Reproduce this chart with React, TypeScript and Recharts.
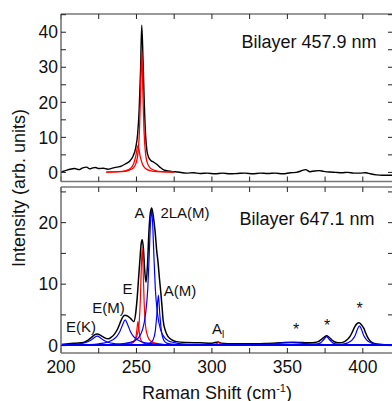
import { LineChart, Line, XAxis, YAxis } from "recharts";

type Pt = [number, number];

// shared x axis
const xDomain = [200, 420];
const xTicks = [200, 225, 250, 275, 300, 325, 350, 375, 400];
const xLabelled = [200, 250, 300, 350, 400];

// top panel (457.9 nm)
const topYDomain = [-2.6, 45.2];
const topYTicks = [0, 5, 10, 15, 20, 25, 30, 35, 40, 45];
const topYLabelled = [0, 10, 20, 30, 40];

const topBlack: Pt[] = [
  [200, 0.1], [203, 0.5], [206, 0.9], [209, 1.1], [212, 0.8], [214, 1.2], [217, 1.5], [219, 1.0],
  [221, 1.3], [223, 1.4], [225, 1.1], [228, 1.2], [231, 0.9], [234, 1.2], [237, 1.5], [240, 1.8],
  [243, 2.5], [245.5, 3.2], [247.5, 4.4], [249.5, 7], [250.8, 11], [251.8, 18], [252.7, 29],
  [253.5, 42], [254.3, 33], [255.1, 21], [256, 11], [257, 6], [258, 4.4], [259.5, 3.4],
  [261.5, 2.9], [263.4, 2.3], [265.5, 1.5], [267.7, 0.8], [270, 0.5], [273, 0.3], [277.6, 0.1],
  [283, -0.2], [288, -0.1], [292, -0.3], [297, -0.2], [302, -0.4], [307, -0.2], [312, -0.4],
  [317, -0.3], [322, -0.2], [327, -0.4], [332, -0.2], [337, -0.3], [342, -0.2], [347, -0.4],
  [352, -0.1], [356, 0.0], [359, 0.4], [362, 0.8], [365, 0.2], [368, 0.4], [371, 0.5], [374, 0.3],
  [378, 0.1], [382, 0.0], [386, -0.1], [390, 0.0], [394, -0.2], [398, -0.2], [402, -0.1],
  [405, -0.4], [409, -0.7], [413, -0.8], [417, -0.8], [420, -0.8],
];
const topRedTall: Pt[] = [
  [230, 0.1], [240, 0.2], [245, 0.6], [248, 1.3], [250, 3], [251, 5.5], [252, 12], [252.8, 24],
  [253.5, 35], [254.2, 24], [255, 12], [256, 5.5], [257, 3], [259, 1.3], [262, 0.6], [267, 0.2], [275, 0.1],
];
const topRedSmall: Pt[] = [
  [230, 0.1], [238, 0.2], [243, 0.5], [246, 1.1], [248, 2.3], [249.5, 4.5], [251, 7.6], [252.5, 4.5],
  [254, 2.3], [256, 1.1], [259, 0.5], [264, 0.2], [275, 0.1],
];

// bottom panel (647.1 nm)
const botYDomain = [-1.2, 25.8];
const botYTicks = [0, 5, 10, 15, 20, 25];
const botYLabelled = [0, 10, 20];

const botBlack: Pt[] = [
  [200, 0.2], [205, 0.3], [210, 0.4], [214.8, 0.5], [218, 0.9], [220.3, 1.35], [222.2, 1.75], [224, 1.9],
  [225.7, 1.75], [227, 1.55], [229, 1.25], [231.3, 1.1], [233.5, 1.4], [235.8, 2.0], [237.5, 2.7],
  [239, 3.6], [240.8, 4.6], [242.4, 4.95], [244.2, 4.8], [246.2, 4.4], [248.3, 3.9], [249.6, 5.5],
  [250.5, 7.8], [251.3, 10.6], [252.3, 14], [253.1, 16.5], [253.8, 17.2], [254.6, 15.8], [255.4, 12.5],
  [256.3, 10.3], [257.3, 13], [258.3, 18.7], [259.2, 21.6], [260.1, 22.4], [261.2, 21], [262.3, 18.7],
  [263.4, 15.5], [264.4, 13.3], [265.2, 11], [266, 9], [266.9, 6.5], [267.7, 4.1], [269.2, 2.4],
  [271, 1.45], [273.5, 0.95], [276.6, 0.65], [282, 0.5], [292, 0.45], [300, 0.4], [304.2, 0.6],
  [306, 0.4], [315, 0.3], [325, 0.3], [335, 0.35], [345, 0.45], [353.8, 0.55], [360, 0.5], [365, 0.45],
  [368, 0.5], [370.4, 0.65], [372.5, 1.0], [374.5, 1.4], [376, 1.6], [377.5, 1.4], [379.5, 0.9],
  [382, 0.55], [384.8, 0.45], [387.5, 0.6], [389.5, 0.95], [391.4, 1.45], [393, 2.2], [394.7, 3.1],
  [396, 3.55], [397.5, 3.7], [399, 3.4], [400.7, 2.8], [402, 2.0], [403.5, 1.2], [405.5, 0.6],
  [409, 0.25], [414, 0.15], [420, 0.1],
];
const botRedA: Pt[] = [
  [240, 0.2], [245, 0.4], [248, 0.7], [250, 1.4], [251.5, 3], [252.5, 7], [253.2, 12.5], [253.8, 16],
  [254.4, 12.5], [255.1, 7], [256.1, 3], [257.6, 1.4], [259.6, 0.7], [262.6, 0.4], [268, 0.2],
];
const botRedE: Pt[] = [
  [243, 0.1], [246, 0.3], [248, 0.5], [249.5, 1.2], [250.3, 2.6], [251, 3.9], [251.7, 2.6],
  [252.5, 1.2], [254, 0.5], [256, 0.3], [259, 0.1],
];
const botRedAl: Pt[] = [
  [200, 0.1], [298, 0.1], [301, 0.15], [303, 0.3], [304.5, 0.5], [306, 0.3], [308, 0.15], [311, 0.1], [320, 0.1],
];
const botBlueBase: Pt[] = [[200, 0.1], [420, 0.1]];
const botBlueEK: Pt[] = [
  [200, 0.1], [205, 0.15], [212, 0.3], [217, 0.55], [220, 0.9], [222, 1.3], [224, 1.55], [226, 1.3],
  [228, 0.9], [231, 0.55], [236, 0.3], [245, 0.15], [260, 0.1],
];
const botBlueEM: Pt[] = [
  [210, 0.1], [225, 0.3], [230, 0.5], [234, 0.9], [237, 1.5], [239, 2.3], [241, 3.5], [242.5, 4.2],
  [244, 3.5], [246, 2.3], [248, 1.5], [251, 0.9], [255, 0.5], [262, 0.3], [275, 0.1],
];
const botBlue2LA: Pt[] = [
  [220, 0.1], [240, 0.3], [245, 0.5], [249, 0.8], [252, 1.5], [254, 2.6], [256, 5.1], [257.5, 9.3],
  [258.5, 15], [259.3, 20], [260, 22], [260.7, 20], [261.5, 15], [262.5, 9.3], [264, 5.1], [266, 2.6],
  [268, 1.5], [271, 0.8], [275, 0.5], [280, 0.3], [295, 0.1],
];
const botBlueAM: Pt[] = [
  [255, 0.2], [259, 0.4], [261, 0.9], [262.5, 2.4], [263.5, 5], [264.5, 8.2], [265.5, 5], [266.5, 2.4],
  [268, 0.9], [270, 0.4], [275, 0.2],
];
const botBlue352: Pt[] = [
  [315, 0.1], [330, 0.15], [340, 0.28], [347, 0.45], [352, 0.5], [357, 0.45], [364, 0.3], [375, 0.15], [390, 0.1],
];
const botBlue376: Pt[] = [
  [360, 0.1], [368, 0.2], [372, 0.45], [374, 0.95], [376, 1.45], [378, 0.95], [380, 0.45], [384, 0.2], [392, 0.1],
];
const botBlue398: Pt[] = [
  [380, 0.1], [386, 0.2], [390, 0.45], [393, 0.95], [395, 1.7], [396.5, 2.7], [397.7, 3.2], [399, 2.7],
  [400.5, 1.7], [402.5, 0.95], [405.5, 0.45], [410, 0.2], [420, 0.1],
];

const rows = (pts: Pt[]) => pts.map(([x, y]) => ({ x, y }));

const FONT = "'Liberation Sans', Arial, sans-serif";
const AXIS = "#777";

function axes(yDomain: number[], yTicks: number[], yLab: number[], xLabels: boolean) {
  const common = { allowDataOverflow: true, interval: 0 as const, tickSize: -5, stroke: AXIS };
  const tickFont = { fill: "#111", fontSize: 17.5, fontFamily: FONT };
  return [
    <XAxis key="xb" xAxisId="b" type="number" dataKey="x" domain={xDomain} ticks={xTicks} height={1}
      tickMargin={13} tick={tickFont} tickLine={{ stroke: "#222" }} axisLine={{ strokeWidth: 1.6 }}
      tickFormatter={(v: number) => (xLabels && xLabelled.includes(v) ? String(v) : "")} {...common} />,
    <XAxis key="xt" xAxisId="t" orientation="top" type="number" dataKey="x" domain={xDomain} ticks={xTicks}
      height={1} tickFormatter={() => ""} tickLine={{ stroke: "#222" }} axisLine={{ strokeWidth: 1.6 }} {...common} />,
    <YAxis key="yl" yAxisId="l" type="number" dataKey="y" domain={yDomain} ticks={yTicks} width={1}
      tickMargin={8} tick={tickFont} tickLine={{ stroke: "#222" }} axisLine={{ strokeWidth: 1.6 }}
      tickFormatter={(v: number) => (yLab.includes(v) ? String(v) : "")} {...common} />,
    <YAxis key="yr" yAxisId="r" orientation="right" type="number" dataKey="y" domain={yDomain} ticks={yTicks}
      width={1} tickFormatter={() => ""} tickLine={{ stroke: "#222" }} axisLine={{ strokeWidth: 1.6 }} {...common} />,
  ];
}

function series(key: string, pts: Pt[], color: string, width: number) {
  return (
    <Line key={key} data={rows(pts)} dataKey="y" xAxisId="b" yAxisId="l" type="monotone" dot={false}
      activeDot={false} stroke={color} strokeWidth={width} isAnimationActive={false} />
  );
}

const txt = (s: string, cx: number, cy: number, size = 15) => (
  <div style={{ position: "absolute", left: cx, top: cy, transform: "translate(-50%,-50%)",
    fontSize: size, lineHeight: 1, whiteSpace: "nowrap", color: "#111" }}>{s}</div>
);

export default function App() {
  return (
    <div style={{ position: "absolute", left: 0, top: 0, width: 392, height: 401, overflow: "hidden",
      background: "#fff", fontFamily: FONT }}>
      <div style={{ position: "absolute", left: 0, top: 0 }}>
        <LineChart width={400} height={190} margin={{ top: 13, right: 6, left: 60, bottom: 7.5 }}>
          {axes(topYDomain, topYTicks, topYLabelled, false)}
          {series("tb", topBlack, "#000", 1.4)}
          {series("tr1", topRedSmall, "#ff0000", 1.3)}
          {series("tr2", topRedTall, "#ff0000", 1.3)}
        </LineChart>
      </div>
      <div style={{ position: "absolute", left: 0, top: 180 }}>
        <LineChart width={400} height={221} margin={{ top: 6, right: 6, left: 60, bottom: 47 }}>
          {axes(botYDomain, botYTicks, botYLabelled, true)}
          {series("bb", botBlack, "#000", 1.5)}
          {series("rAl", botRedAl, "#ff0000", 1.2)}
          {series("rE", botRedE, "#ff0000", 1.2)}
          {series("rA", botRedA, "#ff0000", 1.2)}
          {series("bBase", botBlueBase, "#0000ff", 1.8)}
          {series("bEK", botBlueEK, "#0000ff", 1.2)}
          {series("bEM", botBlueEM, "#0000ff", 1.2)}
          {series("b2LA", botBlue2LA, "#0000ff", 1.2)}
          {series("bAM", botBlueAM, "#0000ff", 1.2)}
          {series("b352", botBlue352, "#0000ff", 1.2)}
          {series("b376", botBlue376, "#0000ff", 1.2)}
          {series("b398", botBlue398, "#0000ff", 1.2)}
        </LineChart>
      </div>

      {txt("Bilayer 457.9 nm", 309, 42, 18)}
      {txt("Bilayer 647.1 nm", 307, 219, 18)}

      {txt("E(K)", 81, 326)}
      {txt("E(M)", 108.5, 307)}
      {txt("E", 127.5, 288)}
      {txt("A", 139.5, 212)}
      {txt("2LA(M)", 185, 212)}
      {txt("A(M)", 180, 290)}
      <div style={{ position: "absolute", left: 212, top: 321, fontSize: 15, lineHeight: 1, color: "#111" }}>
        A<sub style={{ fontSize: 10 }}>l</sub>
      </div>
      {txt("*", 296, 330, 16)}
      {txt("*", 327, 326, 16)}
      {txt("*", 359.5, 309, 16)}

      <div style={{ position: "absolute", left: 19, top: 188, transform: "translate(-50%,-50%) rotate(-90deg)",
        fontSize: 18, lineHeight: 1, whiteSpace: "nowrap", color: "#111" }}>Intensity (arb. units)</div>
      <div style={{ position: "absolute", left: 217, top: 392, transform: "translate(-50%,-50%)",
        fontSize: 18, lineHeight: 1, whiteSpace: "nowrap", color: "#111" }}>
        Raman Shift (cm<sup style={{ fontSize: 11 }}>-1</sup>)
      </div>
    </div>
  );
}
